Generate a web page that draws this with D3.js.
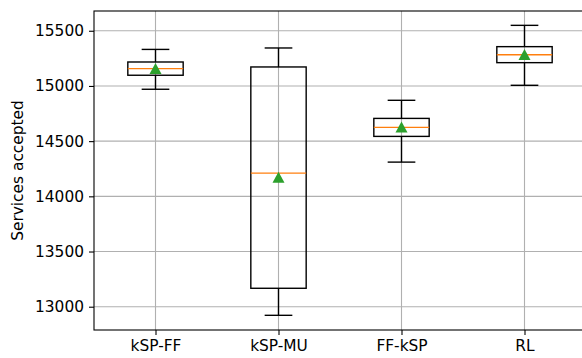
<!DOCTYPE html>
<html>
<head>
<meta charset="utf-8">
<script src="https://cdn.jsdelivr.net/npm/d3@7"></script>
<style>
  body { margin: 0; background: #fff; }
  svg { display: block; font-family: "DejaVu Sans", sans-serif; }
</style>
</head>
<body>
<div id="chart"></div>
<script>
// box plot stats
const categories = ["kSP-FF", "kSP-MU", "FF-kSP", "RL"];
const whiskerLow  = [14970, 12922, 14310, 15006];
const q1          = [15097, 13167, 14543, 15211];
const medians     = [15157, 14210, 14625, 15283];
const q3          = [15217, 15172, 14706, 15356];
const whiskerHigh = [15331, 15344, 14870, 15549];
const means       = [15155, 14170, 14625, 15282];
const yTicks = [13000, 13500, 14000, 14500, 15000, 15500];

const width = 582, height = 358;
const margin = {top: 11, left: 94, bottom: 28};

const boxes = categories.map((c, i) => ({
  name: c, pos: i + 1,
  lo: whiskerLow[i], q1: q1[i], med: medians[i], q3: q3[i], hi: whiskerHigh[i], mean: means[i]
}));

const x = d3.scaleLinear().domain([0.5, 4.5]).range([margin.left, margin.left + 492]);
const y = d3.scaleLinear().domain([12789, 15679]).range([height - margin.bottom - 0, margin.top]);
// bottom of axes ~ y=330
y.range([330, margin.top]);

const boxW = x(1.45) - x(1);
const capW = boxW / 2;

let svg = d3.select("#chart").append("svg")
  .attr("width", width)
  .attr("height", height);

// grid
svg.append("g").selectAll("line").data(yTicks).enter()
  .append("line")
    .attr("x1", margin.left).attr("x2", x(4.5))
    .attr("y1", d => y(d)).attr("y2", d => y(d))
    .attr("stroke", "#b0b0b0").attr("stroke-width", 1.1);
svg.append("g").selectAll("line").data(boxes).enter()
  .append("line")
    .attr("x1", d => x(d.pos)).attr("x2", d => x(d.pos))
    .attr("y1", y.range()[0]).attr("y2", y.range()[1])
    .attr("stroke", "#b0b0b0").attr("stroke-width", 1.1);

// axes
let yAxis = svg.append("g")
  .attr("transform", `translate(${margin.left},0)`)
  .call(d3.axisLeft(y).tickValues(yTicks).tickSize(5).tickPadding(5).tickFormat(d3.format("d")));
let xAxis = svg.append("g")
  .attr("transform", `translate(0,330)`)
  .call(d3.axisBottom(x).tickValues([1, 2, 3, 4]).tickSize(5).tickPadding(5)
    .tickFormat((d, i) => categories[i]));

[yAxis, xAxis].forEach(a => {
  a.select(".domain").remove();
  a.selectAll("line").attr("stroke", "#000").attr("stroke-width", 1.1);
  a.selectAll("text").attr("font-size", 15.4).attr("fill", "#000")
    .attr("font-family", "DejaVu Sans");
});

// frame (right edge falls just outside the picture)
svg.append("rect")
  .attr("x", margin.left).attr("y", margin.top)
  .attr("width", x(4.5) - margin.left).attr("height", 330 - margin.top)
  .attr("fill", "none").attr("stroke", "#000").attr("stroke-width", 1.1);

svg.append("text")
  .attr("transform", `translate(23,${(330 + margin.top) / 2}) rotate(-90)`)
  .attr("text-anchor", "middle")
  .attr("font-size", 15.4)
  .text("Services accepted");

// boxes
let g = svg.append("g").selectAll("g").data(boxes).enter().append("g");

g.append("line") // whiskers
  .attr("x1", d => x(d.pos)).attr("x2", d => x(d.pos))
  .attr("y1", d => y(d.lo)).attr("y2", d => y(d.q1))
  .attr("stroke", "#000").attr("stroke-width", 1.4);
g.append("line")
  .attr("x1", d => x(d.pos)).attr("x2", d => x(d.pos))
  .attr("y1", d => y(d.q3)).attr("y2", d => y(d.hi))
  .attr("stroke", "#000").attr("stroke-width", 1.4);
g.append("line") // caps
  .attr("x1", d => x(d.pos) - capW / 2).attr("x2", d => x(d.pos) + capW / 2)
  .attr("y1", d => y(d.lo)).attr("y2", d => y(d.lo))
  .attr("stroke", "#000").attr("stroke-width", 1.4);
g.append("line")
  .attr("x1", d => x(d.pos) - capW / 2).attr("x2", d => x(d.pos) + capW / 2)
  .attr("y1", d => y(d.hi)).attr("y2", d => y(d.hi))
  .attr("stroke", "#000").attr("stroke-width", 1.4);
g.append("rect")
  .attr("x", d => x(d.pos) - boxW / 2)
  .attr("y", d => y(d.q3))
  .attr("width", boxW)
  .attr("height", d => y(d.q1) - y(d.q3))
  .attr("fill", "none").attr("stroke", "#000").attr("stroke-width", 1.4);
g.append("line") // median
  .attr("x1", d => x(d.pos) - boxW / 2).attr("x2", d => x(d.pos) + boxW / 2)
  .attr("y1", d => y(d.med)).attr("y2", d => y(d.med))
  .attr("stroke", "#ff7f0e").attr("stroke-width", 1.4);
g.append("path") // mean
  .attr("transform", d => `translate(${x(d.pos)},${y(d.mean)})`)
  .attr("d", "M0,-5.8L6,5.2L-6,5.2Z")
  .attr("fill", "#2ca02c");
</script>
</body>
</html>
